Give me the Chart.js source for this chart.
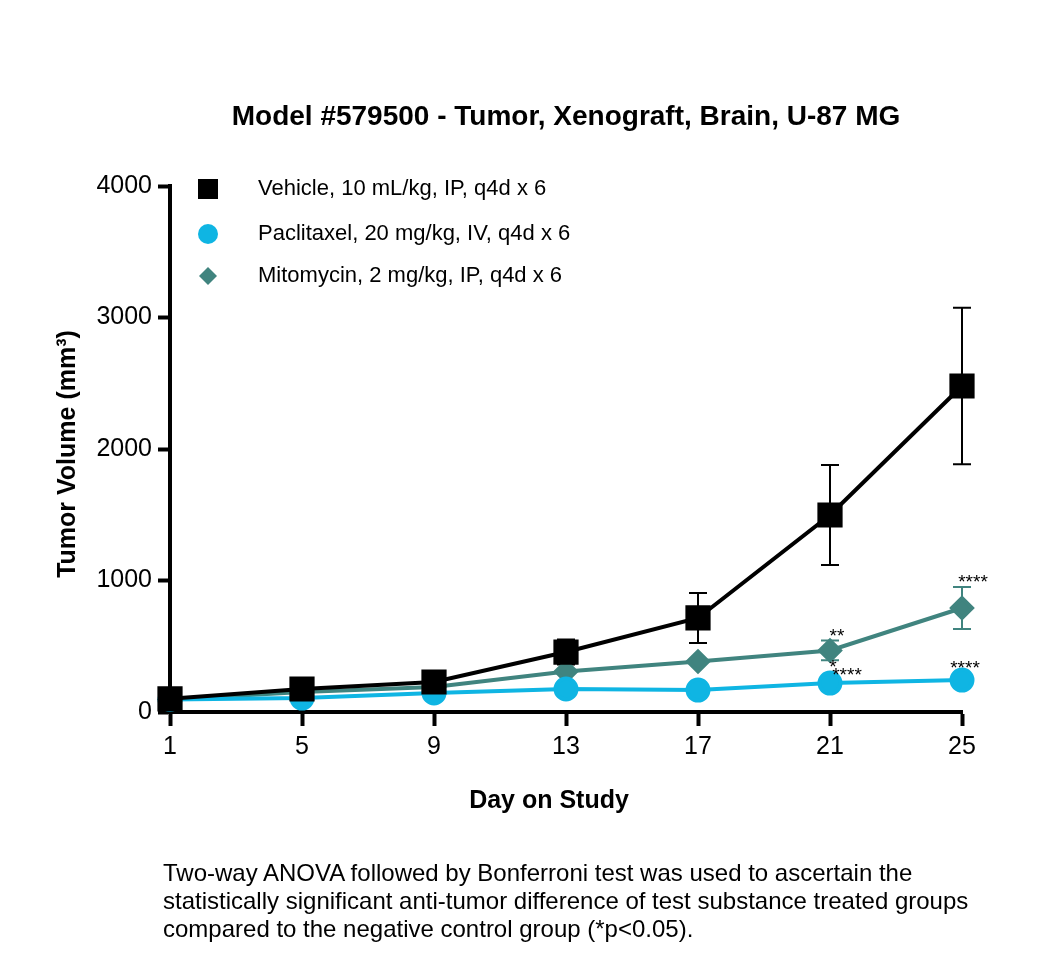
<!DOCTYPE html>
<html>
<head>
<meta charset="utf-8">
<script src="https://cdn.jsdelivr.net/npm/chart.js@4.4.1/dist/chart.umd.min.js"></script>
<style>
  body { margin: 0; background: #fff; }
  #wrap { position: relative; width: 1050px; height: 975px; }
  #note {
    position: absolute; left: 163px; top: 859px;
    font: 24px 'Liberation Sans', Arial, sans-serif; line-height: 28px; color: #000;
    white-space: nowrap;
  }
</style>
</head>
<body>
<div id="wrap">
  <canvas id="myChart" width="1050" height="975"></canvas>
  <div id="note">Two-way ANOVA followed by Bonferroni test was used to ascertain the<br>statistically significant anti-tumor difference of test substance treated groups<br>compared to the negative control group (*p&lt;0.05).</div>
</div>
<script>
// data
const days = [1, 5, 9, 13, 17, 21, 25];
const xTicks = [1, 5, 9, 13, 17, 21, 25];
const yTicks = [0, 1000, 2000, 3000, 4000];
const seriesNames = ['Vehicle, 10 mL/kg, IP, q4d x 6', 'Paclitaxel, 20 mg/kg, IV, q4d x 6', 'Mitomycin, 2 mg/kg, IP, q4d x 6'];
const vehicleMean = [100, 175, 228, 456, 715, 1498, 2479];
const vehicleErr = [0, 0, 0, 95, 190, 380, 595];
const paclitaxelMean = [95, 106, 145, 175, 167, 220, 243];
const paclitaxelErr = [0, 0, 0, 0, 0, 0, 0];
const mitomycinMean = [95, 152, 190, 308, 384, 468, 791];
const mitomycinErr = [0, 0, 0, 0, 0, 75, 160];
// significance marks (series index, day, text)
const sigMarks = [
    { series: 2, day: 21, text: '**', anchor: 'top', dx: 7, dy: -10 },
    { series: 2, day: 21, text: '*', anchor: 'bottom', dx: 3, dy: 2 },
    { series: 1, day: 21, text: '****', anchor: 'point', dx: 17, dy: -13 },
    { series: 2, day: 25, text: '****', anchor: 'top', dx: 11, dy: -10 },
    { series: 1, day: 25, text: '****', anchor: 'point', dx: 3, dy: -17 }
];

const FONT = "'Liberation Sans', Arial, sans-serif";
const colors = ['#000000', '#0fb5e3', '#40847f'];
const means = [vehicleMean, paclitaxelMean, mitomycinMean];
const errs = [vehicleErr, paclitaxelErr, mitomycinErr];
const toPoints = arr => days.map((d, i) => ({ x: d, y: arr[i] }));

const extras = {
    id: 'extras',
    beforeDatasetsDraw(chart) {
        //error bars behind the markers
        const ctx = chart.ctx;
        const xs = chart.scales.x, ys = chart.scales.y;
        ctx.save();
        errs.forEach((errArr, s) => {
            ctx.strokeStyle = colors[s];
            ctx.lineWidth = 2;
            errArr.forEach((e, i) => {
                if (!e) return;
                const x = xs.getPixelForValue(days[i]);
                const top = ys.getPixelForValue(means[s][i] + e);
                const bot = ys.getPixelForValue(means[s][i] - e);
                ctx.beginPath();
                ctx.moveTo(x, top); ctx.lineTo(x, bot);
                ctx.moveTo(x - 9, top); ctx.lineTo(x + 9, top);
                ctx.moveTo(x - 9, bot); ctx.lineTo(x + 9, bot);
                ctx.stroke();
            });
        });
        ctx.restore();
    },
    afterDatasetsDraw(chart) {
        const ctx = chart.ctx;
        const xs = chart.scales.x, ys = chart.scales.y;
        ctx.save();
        ctx.fillStyle = '#000';
        ctx.font = '19px ' + FONT;
        ctx.textAlign = 'center';
        ctx.textBaseline = 'alphabetic';
        sigMarks.forEach(m => {
            const i = days.indexOf(m.day);
            const mean = means[m.series][i], e = errs[m.series][i];
            let v = mean;
            if (m.anchor === 'top') v = mean + e;
            if (m.anchor === 'bottom') v = mean - e;
            const x = xs.getPixelForValue(m.day) + m.dx;
            const y = ys.getPixelForValue(v) + m.dy;
            ctx.fillText(m.text, x, y + 11);
        });
        ctx.restore();
    },
    afterDraw(chart) {
        const ctx = chart.ctx;
        const area = chart.chartArea;
        ctx.save();
        ctx.fillStyle = '#000';
        ctx.textBaseline = 'middle';
        //title
        ctx.textAlign = 'center';
        ctx.font = 'bold 28px ' + FONT;
        ctx.fillText('Model #579500 - Tumor, Xenograft, Brain, U-87 MG', (area.left + area.right) / 2, 117);
        //axis titles
        ctx.font = 'bold 25px ' + FONT;
        ctx.fillText('Day on Study', 549, 801);
        ctx.save();
        ctx.translate(68, (area.top + area.bottom) / 2 + 5);
        ctx.rotate(-Math.PI / 2);
        ctx.fillText('Tumor Volume (mm\u00B3)', 0, 0);
        ctx.restore();
        //legend
        const rows = [189, 234, 276];
        ctx.textAlign = 'left';
        ctx.font = '22px ' + FONT;
        seriesNames.forEach((name, s) => {
            const y = rows[s];
            ctx.fillStyle = colors[s];
            ctx.beginPath();
            if (s === 0) {
                ctx.rect(208 - 10, y - 10, 20, 20);
            } else if (s === 1) {
                ctx.arc(208, y, 10, 0, Math.PI * 2);
            } else {
                ctx.moveTo(208 - 9, y); ctx.lineTo(208, y - 9);
                ctx.lineTo(208 + 9, y); ctx.lineTo(208, y + 9);
                ctx.closePath();
            }
            ctx.fill();
            ctx.fillStyle = '#000';
            ctx.fillText(name, 258, y);
        });
        ctx.restore();
    }
};

const ctx = document.getElementById('myChart').getContext('2d');
const myChart = new Chart(ctx, {
    type: 'line',
    data: {
        datasets: [
            {
                label: seriesNames[0],
                data: toPoints(vehicleMean),
                borderColor: colors[0],
                backgroundColor: colors[0],
                borderWidth: 4,
                pointStyle: 'rect',
                pointRadius: 15,
                pointHoverRadius: 15,
                clip: false
            },
            {
                label: seriesNames[1],
                data: toPoints(paclitaxelMean),
                borderColor: colors[1],
                backgroundColor: colors[1],
                borderWidth: 4,
                pointStyle: 'circle',
                pointRadius: 10.5,
                pointHoverRadius: 10.5,
                clip: false
            },
            {
                label: seriesNames[2],
                data: toPoints(mitomycinMean),
                borderColor: colors[2],
                backgroundColor: colors[2],
                borderWidth: 4,
                pointStyle: 'rectRot',
                pointRadius: 10,
                pointHoverRadius: 10,
                clip: false
            }
        ]
    },
    options: {
        responsive: false,
        animation: false,
        layout: { padding: { left: 50, right: 88, top: 186, bottom: 163 } },
        plugins: {
            legend: { display: false },
            tooltip: { enabled: false },
            title: { display: false }
        },
        scales: {
            x: {
                type: 'linear',
                min: 1,
                max: 25,
                afterBuildTicks: scale => { scale.ticks = xTicks.map(v => ({ value: v })); },
                afterFit: scale => { scale.height = 100; },
                grid: { drawOnChartArea: false, tickLength: 14, tickWidth: 4, tickColor: '#000' },
                border: { color: '#000', width: 4 },
                ticks: { color: '#000', font: { family: FONT, size: 25 }, padding: 6, maxRotation: 0, callback: v => String(v) }
            },
            y: {
                min: 0,
                max: 4000,
                afterBuildTicks: scale => { scale.ticks = yTicks.map(v => ({ value: v })); },
                afterFit: scale => { scale.width = 120; },
                grid: { drawOnChartArea: false, tickLength: 12, tickWidth: 4, tickColor: '#000' },
                border: { color: '#000', width: 4 },
                ticks: { color: '#000', font: { family: FONT, size: 25 }, padding: 6, callback: v => String(v) }
            }
        }
    },
    plugins: [extras]
});
</script>
</body>
</html>
